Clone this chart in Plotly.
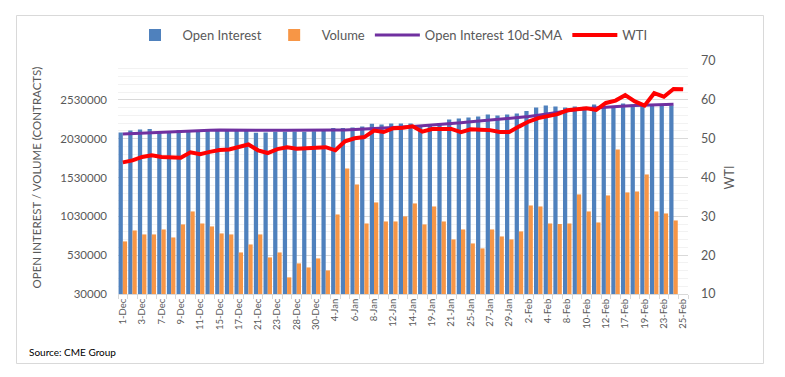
import plotly.graph_objects as go

# ---------------- data ----------------
dates = [
    "1-Dec", "2-Dec", "3-Dec", "4-Dec", "7-Dec", "8-Dec", "9-Dec", "10-Dec", "11-Dec",
    "14-Dec", "15-Dec", "16-Dec", "17-Dec", "18-Dec", "21-Dec", "22-Dec", "23-Dec", "24-Dec",
    "28-Dec", "29-Dec", "30-Dec", "31-Dec",
    "4-Jan", "5-Jan", "6-Jan", "7-Jan", "8-Jan", "11-Jan", "12-Jan", "13-Jan", "14-Jan", "15-Jan",
    "19-Jan", "20-Jan", "21-Jan", "22-Jan", "25-Jan", "26-Jan", "27-Jan", "28-Jan", "29-Jan",
    "1-Feb", "2-Feb", "3-Feb", "4-Feb", "5-Feb", "8-Feb", "9-Feb", "10-Feb", "11-Feb", "12-Feb",
    "16-Feb", "17-Feb", "18-Feb", "19-Feb", "22-Feb", "23-Feb", "24-Feb", "25-Feb",
]

open_interest = [
    2110000, 2135000, 2148000, 2153000, 2128000, 2120000, 2140000, 2142000, 2138000,
    2145000, 2140000, 2142000, 2140000, 2138000, 2105000, 2110000, 2118000, 2120000,
    2122000, 2120000, 2125000, 2153000,
    2166000, 2166000, 2174000, 2187000, 2222000, 2213000, 2226000, 2226000, 2226000, 2187000,
    2200000, 2230000, 2277000, 2290000, 2303000, 2316000, 2341000, 2329000, 2341000,
    2354000, 2385000, 2432000, 2457000, 2444000, 2431000, 2444000, 2440000, 2470000, 2444000,
    2444000, 2483000, 2470000, 2470000, 2457000, 2457000, 2457000,
]

volume = [
    707000, 848000, 797000, 797000, 861000, 758000, 926000, 1093000, 938000,
    900000, 810000, 797000, 565000, 668000, 797000, 501000, 565000, 244000,
    424000, 372000, 488000, 334000,
    1054000, 1646000, 1440000, 938000, 1209000, 964000, 964000, 1029000, 1196000, 926000,
    1157000, 964000, 733000, 861000, 681000, 617000, 861000, 771000, 733000,
    836000, 1170000, 1157000, 938000, 931000, 938000, 1312000, 1093000, 951000, 1299000,
    1891000, 1338000, 1350000, 1569000, 1093000, 1067000, 977000,
]

oi_sma10 = [
    2089000, 2095000, 2102000, 2108000, 2115000, 2121000, 2127000, 2132000, 2135000,
    2138000, 2141000, 2142000, 2143000, 2143000, 2142000, 2140000, 2138000, 2137000,
    2136000, 2136000, 2136000, 2138000,
    2140000, 2143000, 2148000, 2153000, 2158000, 2165000, 2172000, 2180000, 2188000, 2196000,
    2205000, 2215000, 2225000, 2236000, 2247000, 2258000, 2268000, 2278000, 2288000,
    2300000, 2315000, 2332000, 2352000, 2372000, 2390000, 2405000, 2418000, 2428000, 2436000,
    2443000, 2450000, 2456000, 2462000, 2467000, 2471000, 2474000,
]

wti = [
    43.9, 44.4, 45.3, 45.7, 45.3, 45.3, 45.1, 46.5, 46.0,
    46.6, 47.1, 47.2, 47.8, 48.5, 47.0, 46.3, 47.3, 47.8,
    47.4, 47.6, 47.8, 47.8,
    47.0, 49.3, 50.1, 50.4, 52.1, 51.7, 52.7, 52.8, 53.2, 51.8,
    52.5, 52.5, 52.5, 51.7, 52.4, 52.3, 52.2, 51.7, 51.7,
    53.1, 54.4, 55.3, 55.8, 56.3, 57.3, 57.6, 57.8, 57.4, 59.2,
    59.8, 61.2, 59.6, 58.5, 61.7, 60.8, 62.8, 62.7,
]

left_ticks = [30000, 530000, 1030000, 1530000, 2030000, 2530000]
right_ticks = [10, 20, 30, 40, 50, 60, 70]
x_tick_text = [d if i % 2 == 0 else "" for i, d in enumerate(dates)]

# ---------------- figure ----------------
W, H = 785, 377
ML, MR, MT, MB = 118, 97, 61, 83
PW, PH = W - ML - MR, H - MT - MB

FONT = "Lato, 'Open Sans', sans-serif"
GREY = "#595959"

fig = go.Figure()
fig.add_trace(go.Bar(x=dates[:len(open_interest)], y=open_interest, name="Open Interest",
                     marker=dict(color="#4F81BD", line=dict(width=0))))
fig.add_trace(go.Bar(x=dates[:len(volume)], y=volume, name="Volume",
                     marker=dict(color="#F79646", line=dict(width=0))))
fig.add_trace(go.Scatter(x=dates[:len(oi_sma10)], y=oi_sma10, name="Open Interest 10d-SMA",
                         mode="lines", line=dict(color="#7030A0", width=3)))
fig.add_trace(go.Scatter(x=dates, y=wti, name="WTI", mode="lines",
                         line=dict(color="#FF0000", width=4), yaxis="y2"))


def px_x(p):
    return (p - ML) / PW


def px_y(p):
    return (H - MB - p) / PH


fig.update_layout(
    width=W, height=H,
    margin=dict(l=ML, r=MR, t=MT, b=MB, pad=0, autoexpand=False),
    paper_bgcolor="white", plot_bgcolor="white",
    font=dict(family=FONT, color=GREY, size=12),
    barmode="group", bargap=0.12, bargroupgap=0.0,
    showlegend=True,
    legend=dict(orientation="h", xref="container", yref="container",
                x=390 / W, xanchor="center", y=1 - 35 / H, yanchor="middle",
                font=dict(size=13, color=GREY), traceorder="normal",
                itemwidth=45, bgcolor="rgba(0,0,0,0)"),
    xaxis=dict(
        type="category", categoryorder="array", categoryarray=dates,
        range=[-0.5, len(dates) - 0.5], automargin=False,
        tickmode="array", tickvals=dates, ticktext=x_tick_text,
        tickangle=-90, tickfont=dict(size=9.5, color=GREY),
        tickson="boundaries", ticks="outside", ticklen=4, tickcolor="#d9d9d9",
        showline=True, linecolor="#d9d9d9", linewidth=1,
        showgrid=False, zeroline=False, fixedrange=True,
    ),
    yaxis=dict(
        range=[30000, 3030000], automargin=False,
        tickmode="array", tickvals=left_ticks, ticktext=[str(v) for v in left_ticks],
        tickfont=dict(size=11.5, color=GREY), ticklabelstandoff=10,
        showgrid=True, gridcolor="#d9d9d9", gridwidth=1,
        minor=dict(tickmode="linear", tick0=30000, dtick=100000, showgrid=True,
                   gridcolor="#f2f2f2", gridwidth=1),
        zeroline=False, showline=False,
        title=dict(text="OPEN INTEREST / VOLUME (CONTRACTS)", font=dict(size=11.5, color=GREY),
                   standoff=16),
    ),
    yaxis2=dict(
        overlaying="y", side="right", range=[10, 70], automargin=False,
        tickmode="array", tickvals=right_ticks, ticktext=[str(v) for v in right_ticks],
        tickfont=dict(size=12.5, color=GREY), ticklabelstandoff=12,
        showgrid=False, zeroline=False, showline=False,
        title=dict(text="WTI", font=dict(size=12.5, color=GREY), standoff=10),
    ),
    annotations=[
        dict(text="Source: CME Group", xref="paper", yref="paper",
             x=px_x(27), y=px_y(352), xanchor="left", yanchor="middle",
             showarrow=False, font=dict(size=10, color="#000000", family=FONT)),
    ],
    shapes=[
        dict(type="rect", xref="paper", yref="paper",
             x0=px_x(16.5), x1=px_x(763.5), y0=px_y(363.5), y1=px_y(15.5),
             line=dict(color="#d9d9d9", width=1), fillcolor="rgba(0,0,0,0)", layer="below"),
    ],
)

fig.write_html(
    "out.html",
    config={"displayModeBar": False, "staticPlot": True},
    post_script="document.body.style.margin='0px';document.body.style.padding='0px';"
                "document.body.style.overflow='hidden';",
)
